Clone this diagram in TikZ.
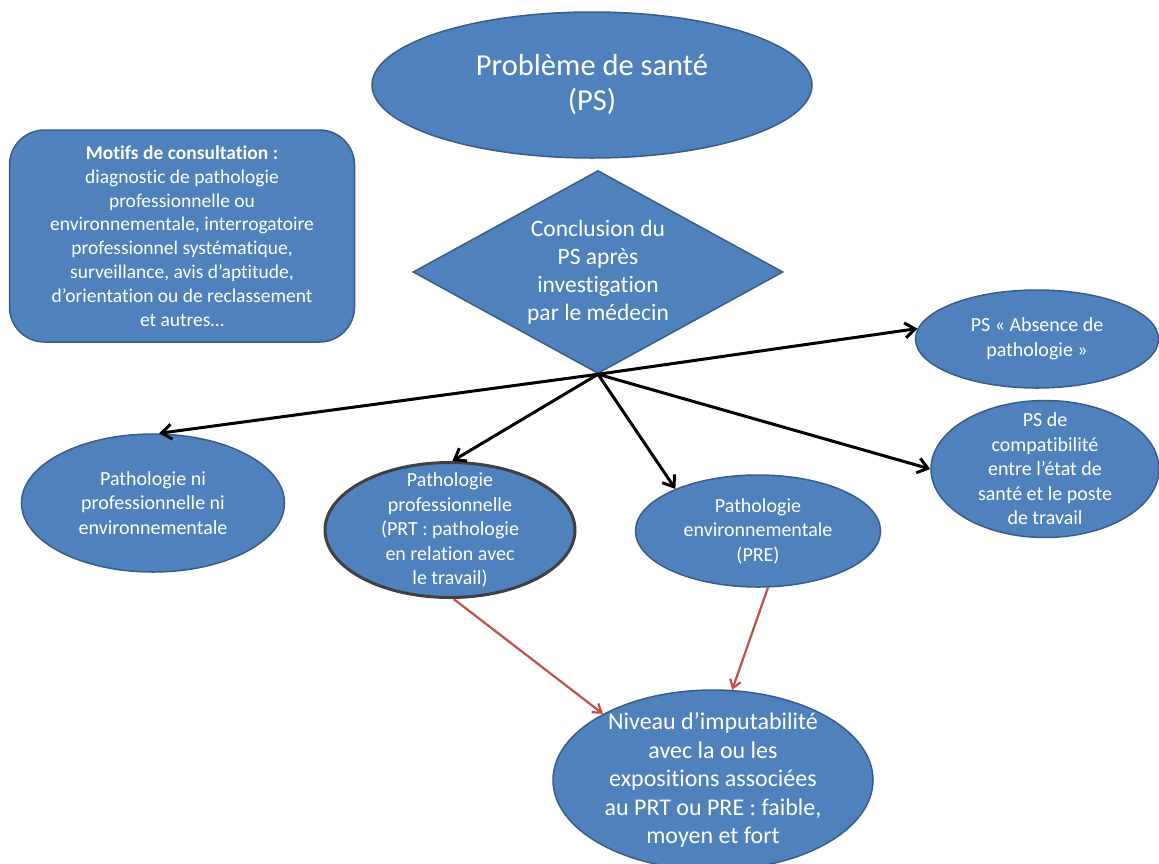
\documentclass[tikz,border=0pt]{standalone}
\usepackage{fontspec}
\setmainfont{Carlito}[Ligatures=NoCommon]
\usepackage{tikz}
\usetikzlibrary{shapes.geometric,arrows.meta,positioning}

\definecolor{boxblue}{HTML}{4F81BD}
\definecolor{boxline}{HTML}{385D8A}
\definecolor{linkred}{HTML}{C0504D}
\definecolor{darkrim}{HTML}{404040}

\begin{document}
\begin{tikzpicture}[
    x=1pt, y=-1pt,
    blob/.style={ellipse, draw=boxline, line width=1.5pt, fill=boxblue, text=white, align=center, inner sep=-40pt, font=\fontsize{20}{24.5}\selectfont},
    motif/.style={rectangle, rounded corners=35pt, draw=boxline, line width=1.5pt, fill=boxblue, text=white, align=center, minimum width=345pt, minimum height=212pt, font=\fontsize{19.5}{23.8}\selectfont},
    decision/.style={diamond, aspect=1.82, draw=boxline, line width=1.5pt, fill=boxblue, text=white, align=center, inner sep=-40pt, minimum width=370pt, minimum height=203pt, font=\fontsize{23.5}{28}\selectfont},
    outlink/.style={-{Straight Barb[length=10pt,width=15pt]}, line width=3pt},
    redlink/.style={-{Straight Barb[length=8pt,width=11pt]}, line width=2.2pt, draw=linkred},
]
    \useasboundingbox (0,0) rectangle (1159,863);

    \node[blob, minimum width=440pt, minimum height=146pt, font=\fontsize{30.5}{35}\selectfont] (ps) at (592,85) {Problème de santé\\(PS)};
    \node[motif] (motifs) at (182,236) {\textbf{Motifs de consultation :}\\diagnostic de pathologie\\professionnelle ou\\environnementale, interrogatoire\\professionnel systématique,\\surveillance, avis d’aptitude,\\d’orientation ou de reclassement\\et autres…};
    \node[decision] (concl) at (598,272) {Conclusion du\\PS après\\investigation\\par le médecin};

    \node[blob, minimum width=243pt, minimum height=98pt] (absent) at (1037,339) {PS « Absence de\\pathologie »};
    \node[blob, minimum width=228pt, minimum height=137pt] (compat) at (1045,469) {PS de\\compatibilité\\entre l’état de\\santé et le poste\\de travail};
    \node[blob, minimum width=263pt, minimum height=138pt] (nipro) at (153,503) {Pathologie ni\\professionnelle ni\\environnementale};
    \node[blob, draw=darkrim, line width=3pt, minimum width=250pt, minimum height=135pt] (prt) at (450,530) {Pathologie\\professionnelle\\(PRT : pathologie\\en relation avec\\le travail)};
    \node[blob, minimum width=245pt, minimum height=112pt] (pre) at (758,531) {Pathologie\\environnementale\\(PRE)};
    \node[blob, minimum width=320pt, minimum height=180pt, font=\fontsize{24}{28.5}\selectfont] (niveau) at (713,780) {Niveau d’imputabilité\\avec la ou les\\expositions associées\\au PRT ou PRE : faible,\\moyen et fort};

    \draw[outlink] (concl.south) -- (absent.175);
    \draw[outlink] (concl.south) -- (nipro.85);
    \draw[outlink] (concl.south) -- (prt.88);
    \draw[outlink] (concl.south) -- (pre.153);
    \draw[outlink] (concl.south) -- (compat.west);

    \draw[redlink] (prt.-87) -- (niveau.149);
    \draw[redlink] (pre.-80) -- (niveau.78);
\end{tikzpicture}
\end{document}
